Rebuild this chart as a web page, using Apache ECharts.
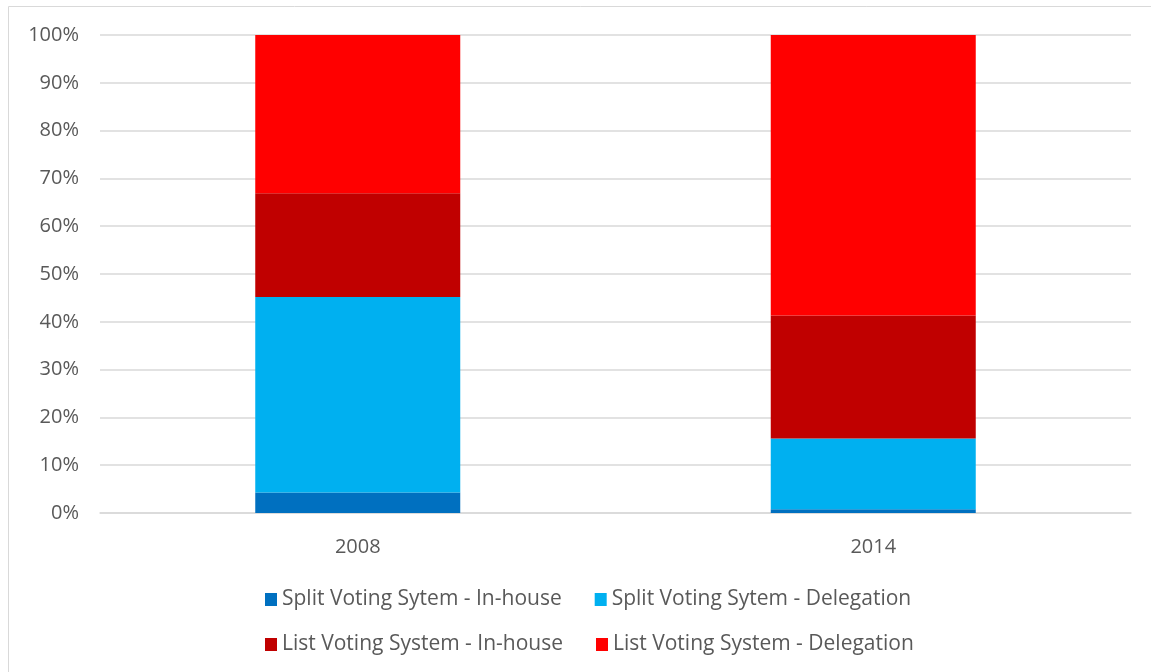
<!DOCTYPE html>
<html><head><meta charset="utf-8">
<script src="https://cdn.jsdelivr.net/npm/echarts@6/dist/echarts.min.js"></script>
<style>html,body{margin:0;padding:0;background:#fff}#c{width:1151px;height:672px}</style>
</head><body><div id="c"></div>
<script>
const categories = ['2008', '2014'];
const splitInHouse = [4.3, 0.8];
const splitDelegation = [40.9, 14.8];
const listInHouse = [21.7, 25.7];
const listDelegation = [33.1, 58.7];
const seriesNames = ['Split Voting Sytem - In-house', 'Split Voting Sytem - Delegation', 'List Voting System - In-house', 'List Voting System - Delegation'];
const colors = ['#0070C0', '#00B0F0', '#C00000', '#FF0000'];

const chart = echarts.init(document.getElementById('c'));
const font = "'Open Sans', sans-serif";
const mk = (name, data, i) => ({
  name, type: 'bar', stack: 'a', data, barWidth: 205,
  itemStyle: { color: colors[i] }, emphasis: { disabled: true }
});
const legendText = { color: '#595959', fontSize: 21, fontFamily: font };
chart.setOption({
  animation: false,
  graphic: [{ type: 'rect', shape: { x: 8.5, y: 6.5, width: 1200, height: 700 }, style: { fill: 'none', stroke: '#d9d9d9', lineWidth: 1 }, silent: true }],
  grid: { left: 100, right: 20, top: 35, bottom: 159 },
  xAxis: {
    type: 'category', data: categories,
    axisLine: { lineStyle: { color: '#d9d9d9', width: 1.5 } }, axisTick: { show: false },
    axisLabel: { color: '#595959', fontSize: 20, fontFamily: font, margin: 24 }
  },
  yAxis: {
    type: 'value', min: 0, max: 100, interval: 10,
    axisLabel: { formatter: '{value}%', color: '#595959', fontSize: 20, fontFamily: font, margin: 21 },
    splitLine: { lineStyle: { color: '#d9d9d9', width: 1.5 } },
    axisLine: { show: false }, axisTick: { show: false }
  },
  legend: [
    { data: seriesNames.slice(0, 2), left: 260, top: 584, itemWidth: 12, itemHeight: 13, itemGap: 33, icon: 'rect', textStyle: legendText, selectedMode: false },
    { data: seriesNames.slice(2, 4), left: 260, top: 629, itemWidth: 12, itemHeight: 13, itemGap: 33, icon: 'rect', textStyle: legendText, selectedMode: false }
  ],
  series: [
    mk(seriesNames[0], splitInHouse, 0),
    mk(seriesNames[1], splitDelegation, 1),
    mk(seriesNames[2], listInHouse, 2),
    mk(seriesNames[3], listDelegation, 3)
  ]
});
</script></body></html>
